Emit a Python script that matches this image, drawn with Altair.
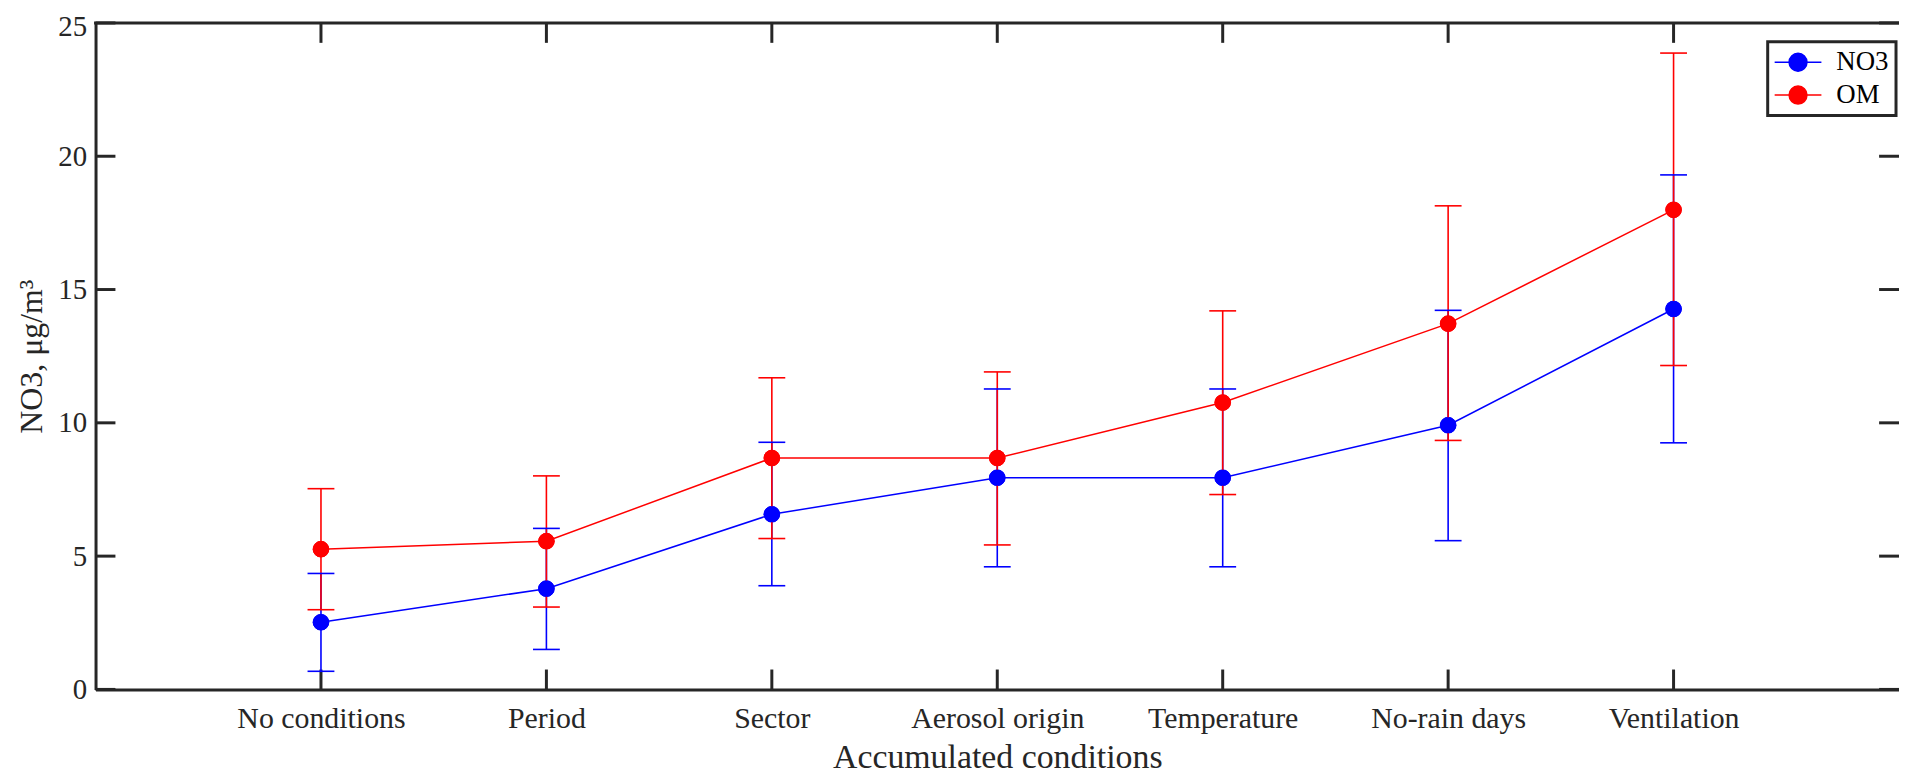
import json
import altair as alt
import pandas as pd

categories = ["No conditions", "Period", "Sector", "Aerosol origin",
              "Temperature", "No-rain days", "Ventilation"]
no3_mean = [2.52, 3.78, 6.57, 7.94, 7.94, 9.91, 14.27]
no3_low = [0.68, 1.50, 3.89, 4.60, 4.60, 5.58, 9.25]
no3_high = [4.35, 6.04, 9.27, 11.27, 11.27, 14.22, 19.30]
om_mean = [5.26, 5.56, 8.68, 8.68, 10.76, 13.72, 17.99]
om_low = [2.99, 3.09, 5.66, 5.42, 7.31, 9.34, 12.15]
om_high = [7.53, 8.01, 11.69, 11.91, 14.20, 18.14, 23.87]
series_names = ["NO3", "OM"]
series_colors = ["#0000ff", "#ff0000"]
y_ticks = [0, 5, 10, 15, 20, 25]

rows = []
for name, m, lo, hi in [("NO3", no3_mean, no3_low, no3_high),
                        ("OM", om_mean, om_low, om_high)]:
    for i, c in enumerate(categories):
        rows.append(dict(series=name, category=c, pos=i + 1,
                         mean=m[i], low=lo[i], high=hi[i]))
df = pd.DataFrame(rows)
cat_df = pd.DataFrame({"pos": list(range(1, len(categories) + 1))})
yt_df = pd.DataFrame({"v": y_ticks})

FONT = "Liberation Serif"
AX = "#262626"
W, H = 1813, 670

xscale = alt.Scale(domain=[0, len(categories) + 1], nice=False, zero=False)
yscale = alt.Scale(domain=[y_ticks[0], y_ticks[-1]], nice=False)
cscale = alt.Scale(domain=series_names, range=series_colors)

label_expr = json.dumps(categories) + "[datum.value - 1]"
xaxis = alt.Axis(values=list(range(1, len(categories) + 1)), labelExpr=label_expr,
                 title="Accumulated conditions", ticks=False, grid=False,
                 domain=True, domainColor=AX, domainWidth=3,
                 labelFont=FONT, labelFontSize=30, labelColor=AX, labelPadding=14,
                 titleFont=FONT, titleFontSize=34, titleColor=AX,
                 titleFontWeight="normal", titlePadding=7)
yaxis = alt.Axis(values=y_ticks, title="NO3, μg/m³", ticks=False, grid=False,
                 domain=True, domainColor=AX, domainWidth=3,
                 labelFont=FONT, labelFontSize=29, labelColor=AX, labelPadding=9,
                 labelOffset={"condition": {"test": f"datum.value == {y_ticks[-1]}", "value": 4},
                              "value": 0},
                 titleFont=FONT, titleFontSize=32, titleColor=AX,
                 titleFontWeight="normal", titlePadding=9)


def xenc(f):
    return alt.X(f, type="quantitative", scale=xscale, axis=xaxis)


def yenc(f):
    return alt.Y(f, type="quantitative", scale=yscale, axis=yaxis)


# legend symbol: a 47px line with an 18px dot; unit = 10px (symbolSize 400)
sym_path = ("M-2.35,0L2.35,0M-0.9,0A0.9,0.9,0,1,1,0.9,0"
            "A0.9,0.9,0,1,1,-0.9,0Z")
leg = alt.Legend(title=None, orient="none", legendX=1681, legendY=19,
                 symbolType=sym_path, symbolSize=400, symbolStrokeWidth=1.5,
                 symbolOffset=10, labelOffset=25,
                 labelFont=FONT, labelFontSize=27, labelColor="#000000",
                 strokeColor=AX, fillColor="#ffffff", padding=7, rowPadding=5)
col_nl = alt.Color("series:N", scale=cscale, legend=None)
col_leg = alt.Color("series:N", scale=cscale, legend=leg)
stroke_leg = alt.Stroke("series:N", scale=cscale, legend=leg)

base = alt.Chart(df)
# first layer carries the legend definition (drawn again on top below)
points_leg = base.mark_point(filled=True, size=250, strokeWidth=1, opacity=1).encode(
    x=xenc("pos"), y=yenc("mean"), color=col_leg, stroke=stroke_leg)

# frame top
top_rule = alt.Chart(yt_df).transform_filter(
    alt.datum.v == y_ticks[-1]).mark_rule(color=AX, strokeWidth=3, strokeCap="square").encode(
    y=yenc("v"))

# inward ticks
ytick_left = alt.Chart(yt_df).mark_rule(color=AX, strokeWidth=3).encode(
    y=yenc("v"), x=alt.value(0), x2=alt.value(20))
ytick_right = alt.Chart(yt_df).mark_rule(color=AX, strokeWidth=3).encode(
    y=yenc("v"), x=alt.value(W - 20), x2=alt.value(W))
xtick_bottom = alt.Chart(cat_df).mark_rule(color=AX, strokeWidth=3).encode(
    x=xenc("pos"), y=alt.value(H), y2=alt.value(H - 20))
xtick_top = alt.Chart(cat_df).mark_rule(color=AX, strokeWidth=3).encode(
    x=xenc("pos"), y=alt.value(0), y2=alt.value(20))

bars = base.mark_rule(strokeWidth=1.6).encode(x=xenc("pos"), y=yenc("low"), y2="high", color=col_nl)
cap_lo = base.mark_tick(orient="horizontal", size=27, thickness=1.6, opacity=1).encode(
    x=xenc("pos"), y=yenc("low"), color=col_nl)
cap_hi = base.mark_tick(orient="horizontal", size=27, thickness=1.6, opacity=1).encode(
    x=xenc("pos"), y=yenc("high"), color=col_nl)
lines = base.mark_line(strokeWidth=1.5).encode(
    x=xenc("pos"), y=yenc("mean"), color=col_nl, order="pos:Q")
points = base.mark_point(filled=True, size=265, strokeWidth=0, opacity=1).encode(
    x=xenc("pos"), y=yenc("mean"), color=col_nl)

chart = alt.layer(points_leg, top_rule, ytick_left, ytick_right, xtick_bottom, xtick_top,
                  bars, cap_lo, cap_hi, lines, points).properties(
    width=W, height=H,
    autosize=alt.AutoSizeParams(type="none"),
    padding={"left": 88, "top": 13, "right": 0, "bottom": 83},
    background="#ffffff",
).configure(font=FONT).configure_view(stroke=None).configure_legend(strokeWidth=3)

chart.save("out.html", embed_options={"renderer": "svg", "actions": False})
